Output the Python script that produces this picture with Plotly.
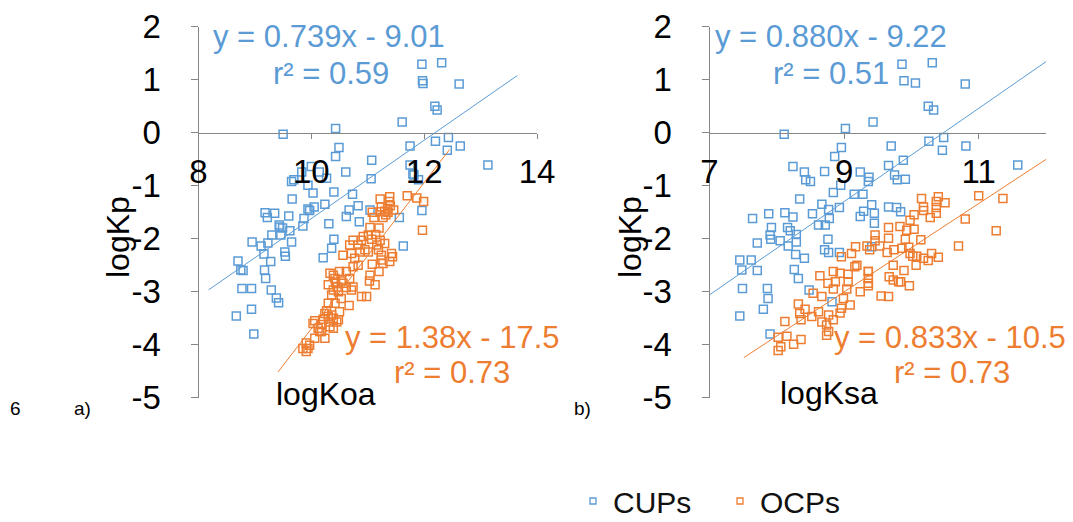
import plotly.graph_objects as go

# The page body has an 8 px margin on the top/left, so the figure is drawn from (8, 8)
PAGE_W, PAGE_H = 1073, 522
OFF = 8
W, H = PAGE_W - OFF, PAGE_H - OFF
BLUE = "#5B9BD5"
ORANGE = "#ED7D31"
AXIS = "#868686"
FONT = "Liberation Sans, Arial, sans-serif"


def fx(px):
    return (px - OFF) / W


def fy(py):
    return 1 - (py - OFF) / H


# ---------------- panel a) logKp vs logKoa ----------------
a_cup_x = [11.96, 12.31, 11.97, 11.98, 12.62, 12.19, 12.23, 11.61, 10.43, 9.50,
           12.43, 12.20, 12.64, 11.75, 10.49, 12.41, 10.43, 11.07, 13.13, 11.75,
           10.00, 9.83, 10.14, 10.61, 10.27, 9.69, 9.65, 9.94, 10.03, 10.40,
           9.66, 10.24, 10.05, 9.94, 9.97, 9.18, 9.35, 9.22, 9.60, 9.87,
           10.31, 9.43, 9.44, 9.49, 9.85, 9.62, 9.30, 9.46, 9.65, 8.95,
           9.11, 9.23, 10.40, 10.36, 9.53, 9.16, 8.70, 10.21, 9.54, 8.79,
           8.75, 9.17, 9.28, 9.19, 8.77, 8.94, 9.29, 9.38, 9.42, 8.94,
           8.67, 8.98, 10.73, 10.83, 10.67, 10.62, 10.85, 11.04, 11.56, 11.63,
           11.06, 11.80, 11.82, 11.90, 11.96]
a_cup_y = [1.29, 1.32, 0.98, 0.93, 0.92, 0.50, 0.43, 0.20, 0.08, -0.03,
           -0.09, -0.16, -0.25, -0.25, -0.28, -0.33, -0.45, -0.52, -0.61, -0.61,
           -0.64, -0.74, -0.74, -0.74, -0.86, -0.89, -0.92, -0.99, -1.14, -1.12,
           -1.25, -1.35, -1.40, -1.44, -1.47, -1.51, -1.52, -1.60, -1.57, -1.62,
           -1.72, -1.74, -1.78, -1.80, -1.76, -1.85, -1.93, -1.93, -2.06, -2.06,
           -2.14, -2.08, -2.01, -2.18, -2.25, -2.29, -2.42, -2.36, -2.33, -2.60,
           -2.59, -2.59, -2.43, -2.75, -2.94, -2.94, -2.97, -3.12, -3.21, -3.33,
           -3.46, -3.80, -1.16, -1.38, -1.46, -1.58, -1.68, -1.46, -1.60, -2.14,
           -0.87, -0.78, -0.80, -0.89, -1.47]

a_ocp_x = [11.70, 11.87, 11.99, 11.97, 11.22, 11.39, 11.38, 11.40, 11.24, 11.35,
           11.30, 11.36, 11.22, 11.08, 11.11, 11.27, 11.32, 11.46,
           11.04, 11.20, 11.01, 11.07, 10.92, 10.89, 10.74, 10.68, 10.83, 10.95,
           10.86, 11.01, 11.16, 11.22, 11.19, 11.24, 11.24, 11.42, 11.44, 11.39,
           11.27, 11.08, 11.20, 11.04, 11.03, 11.13, 10.83, 10.74, 10.56, 10.71,
           10.77, 11.14, 11.30,
           10.33, 10.39, 10.50, 10.62, 10.42, 10.53, 10.43, 10.30, 10.68, 10.39,
           10.48, 10.36, 10.62, 10.71, 10.74, 10.89, 10.98, 10.67, 10.53, 10.42,
           10.30, 10.56, 10.46,
           10.27, 10.36, 10.24, 10.30, 10.39, 10.48, 10.21, 10.06, 10.03, 10.18,
           10.33, 10.39, 10.15, 10.24, 10.06, 9.97, 9.91, 9.94, 10.50, 10.31,
           10.45, 10.12, 9.91, 9.85, 10.18]
a_ocp_y = [-1.19, -1.23, -1.30, -1.84, -1.25, -1.21, -1.30, -1.38, -1.40, -1.43,
           -1.48, -1.50, -1.49, -1.50, -1.60, -1.60, -1.55, -1.46,
           -1.79, -1.80, -1.93, -2.01, -1.96, -2.03, -2.03, -2.12, -2.12, -2.21,
           -2.25, -2.25, -2.12, -2.03, -2.21, -2.31, -2.40, -2.28, -2.34, -2.43,
           -2.47, -2.48, -2.62, -2.69, -2.80, -2.87, -2.50, -2.53, -2.31, -2.28,
           -2.37, -1.92, -2.09,
           -2.65, -2.69, -2.62, -2.62, -2.75, -2.80, -2.82, -2.87, -2.75, -2.97,
           -3.00, -3.06, -2.92, -2.97, -2.91, -3.09, -3.09, -3.26, -3.13, -3.22,
           -3.22, -2.84, -2.91,
           -3.36, -3.44, -3.41, -3.47, -3.50, -3.53, -3.52, -3.55, -3.60, -3.62,
           -3.66, -3.69, -3.75, -3.88, -3.88, -4.01, -3.97, -4.07, -3.38, -3.57,
           -3.57, -3.69, -4.13, -4.07, -3.75]

# ---------------- panel b) logKp vs logKsa ----------------
b_cup_x = [9.86, 10.31, 9.89, 10.06, 10.80, 10.25, 10.33, 9.43, 9.02, 8.11,
           10.48, 10.26, 10.81, 9.70, 8.96, 10.46, 8.86, 9.88, 11.58, 9.66,
           9.75, 9.79, 9.91, 9.37, 9.36, 9.24, 8.95, 8.84, 9.15, 9.28,
           8.24, 8.41, 8.43, 8.50, 8.71,
           8.34, 8.67, 8.77, 8.93, 9.41, 9.29, 9.24, 8.53, 8.12, 8.24,
           7.88, 7.64, 8.78, 8.72, 8.62, 7.92, 8.16, 8.20, 8.29, 7.90,
           7.91, 8.05, 8.29, 7.71, 8.17, 8.76, 8.28, 8.71, 8.77, 8.93,
           7.45, 7.62, 8.41,
           7.48, 7.71, 8.26, 8.32, 7.49, 7.86, 7.87, 7.80, 7.45, 7.90,
           8.48, 8.82,
           9.66, 9.78, 9.84, 9.45, 9.45, 9.41]
b_cup_y = [1.29, 1.32, 0.98, 0.94, 0.92, 0.50, 0.43, 0.20, 0.08, -0.03,
           -0.09, -0.16, -0.25, -0.25, -0.28, -0.33, -0.45, -0.52, -0.61, -0.62,
           -0.80, -0.89, -0.88, -0.84, -0.92, -0.74, -0.99, -1.13, -1.16, -1.16,
           -0.64, -0.74, -0.89, -0.92, -0.73,
           -1.25, -1.35, -1.45, -1.41, -1.36, -1.48, -1.58, -1.53, -1.51, -1.59,
           -1.53, -1.62, -1.62, -1.74, -1.74, -1.79, -1.79, -1.85, -1.92, -1.93,
           -2.01, -2.04, -2.06, -2.08, -2.14, -2.01, -2.30, -2.21, -2.26, -2.26,
           -2.40, -2.40, -2.37,
           -2.59, -2.60, -2.58, -2.75, -2.94, -2.94, -3.13, -3.33, -3.46, -3.80,
           -2.97, -3.19,
           -1.40, -1.41, -1.49, -1.52, -1.71, -2.15]

b_ocp_x = [8.96, 8.64, 8.84, 8.94, 9.06, 9.16, 9.19, 9.36, 9.36, 9.24,
           8.87, 8.76, 9.06, 8.84, 9.04, 8.54, 8.67, 8.99, 8.32, 8.42,
           8.62, 8.34, 8.36, 8.52, 8.67, 8.77, 8.84, 8.74, 8.96, 9.09,
           8.94, 8.12, 8.77, 8.74, 8.02, 8.15, 8.36, 8.25, 8.06, 8.02,
           9.11,
           10.15, 10.40, 10.37, 10.50, 10.18, 10.37, 10.18, 10.37, 10.28, 10.04,
           9.98, 9.83, 9.66, 9.93, 10.04, 11.00, 11.36, 10.80, 11.26, 10.70,
           10.14, 9.91, 9.66, 9.46, 9.46, 9.34, 9.38, 9.53, 9.64, 9.74,
           9.86, 9.96, 9.98, 10.02, 10.08, 10.18, 10.30, 10.40, 10.25, 10.07,
           9.89, 9.73, 9.36, 9.36, 9.36, 9.67, 9.73, 9.81, 9.84, 9.97,
           9.55, 9.66, 9.17]
b_ocp_y = [-2.34, -2.70, -2.62, -2.65, -2.67, -2.53, -2.50, -2.62, -2.84, -3.00,
           -2.81, -2.84, -2.81, -2.95, -2.95, -3.03, -3.09, -3.13, -3.23, -3.33,
           -3.38, -3.41, -3.53, -3.47, -3.57, -3.44, -3.53, -3.63, -3.31, -3.25,
           -3.40, -3.56, -3.75, -3.82, -3.86, -3.84, -3.90, -3.99, -4.04, -4.11,
           -2.28,
           -1.24, -1.21, -1.30, -1.32, -1.40, -1.41, -1.47, -1.52, -1.60, -1.55,
           -1.65, -1.77, -1.79, -1.84, -1.82, -1.19, -1.24, -1.63, -1.85, -2.14,
           -2.02, -2.01, -1.99, -1.93, -2.04, -2.14, -2.21, -2.14, -2.26, -2.21,
           -2.18, -2.16, -2.28, -2.33, -2.33, -2.37, -2.28, -2.35, -2.41, -2.50,
           -2.60, -2.50, -2.62, -2.75, -2.89, -2.72, -2.78, -2.81, -2.81, -2.89,
           -3.08, -3.09, -2.15]

# regression lines (slope, intercept, x extent) as printed on the chart
fits = {
    "a_cup": (0.739, -9.01, [8.18, 13.65]),
    "a_ocp": (1.38, -17.5, [9.41, 12.45]),
    "b_cup": (0.880, -9.22, [7.0, 12.0]),
    "b_ocp": (0.833, -10.5, [7.51, 12.0]),
}

x_ticks_a = [8, 10, 12, 14]
x_ticks_b = [7, 9, 11]
y_ticks = [-5, -4, -3, -2, -1, 0, 1, 2]

fig = go.Figure()


def scatter(x, y, color, xa, ya):
    fig.add_trace(go.Scatter(
        x=x, y=y, mode="markers", xaxis=xa, yaxis=ya, showlegend=False,
        marker=dict(symbol="square-open", size=8, color=color,
                    line=dict(width=1.5, color=color)),
        hoverinfo="x+y"))


def trend(key, color, xa, ya):
    m, b, xs = fits[key]
    fig.add_trace(go.Scatter(
        x=xs, y=[m * v + b for v in xs], mode="lines", xaxis=xa, yaxis=ya,
        showlegend=False, line=dict(color=color, width=1), hoverinfo="skip"))


scatter(a_cup_x, a_cup_y, BLUE, "x", "y")
scatter(a_ocp_x, a_ocp_y, ORANGE, "x", "y")
trend("a_cup", BLUE, "x", "y")
trend("a_ocp", ORANGE, "x", "y")
scatter(b_cup_x, b_cup_y, BLUE, "x2", "y2")
scatter(b_ocp_x, b_ocp_y, ORANGE, "x2", "y2")
trend("b_cup", BLUE, "x2", "y2")
trend("b_ocp", ORANGE, "x2", "y2")

# legend-only entries (small symbols as in the original)
for name, color in [("CUPs", BLUE), ("OCPs", ORANGE)]:
    fig.add_trace(go.Scatter(
        x=[None], y=[None], mode="markers", name=name,
        marker=dict(symbol="square-open", size=6, color=color,
                    line=dict(width=1.3, color=color))))

y_dom = [fy(397.7), fy(26.7)]
x_pos = fy(132.7)

common_x = dict(anchor="free", position=x_pos, showline=True, linecolor=AXIS,
                linewidth=1, ticks="outside", ticklen=5, tickcolor=AXIS,
                showgrid=False, zeroline=False, ticklabelstandoff=5,
                tickfont=dict(family=FONT, size=33, color="black"))
common_y = dict(domain=y_dom, range=[-5, 2], tickvals=y_ticks,
                ticktext=[str(v) for v in y_ticks], showline=True,
                linecolor=AXIS, linewidth=1, ticks="outside", ticklen=7,
                tickcolor=AXIS, showgrid=False, zeroline=False,
                ticklabelstandoff=23,
                tickfont=dict(family=FONT, size=33, color="black"))

fig.update_layout(
    width=W, height=H, margin=dict(l=0, r=0, t=0, b=0, autoexpand=False),
    paper_bgcolor="white", plot_bgcolor="white",
    font=dict(family=FONT, color="black"),
    xaxis=dict(domain=[fx(198.5), fx(537)], range=[8, 14], tickvals=x_ticks_a,
               ticktext=[str(v) for v in x_ticks_a], **common_x),
    yaxis=dict(anchor="x", **common_y),
    xaxis2=dict(domain=[fx(709.5), fx(1046)], range=[7, 12], tickvals=x_ticks_b,
                ticktext=[str(v) for v in x_ticks_b], **common_x),
    yaxis2=dict(anchor="x2", **common_y),
    legend=dict(orientation="h", x=fx(573), xanchor="left", y=fy(501),
                yanchor="middle", entrywidth=102, entrywidthmode="pixels",
                font=dict(family=FONT, size=30, color="#111111"),
                bgcolor="rgba(0,0,0,0)"),
)


def txt(text, px, py, size, color, angle=0, family=FONT):
    fig.add_annotation(text=text, x=fx(px), y=fy(py), xref="paper", yref="paper",
                       xanchor="center", yanchor="middle", showarrow=False,
                       borderpad=0, textangle=angle,
                       font=dict(family=family, size=size, color=color))


txt("y = 0.739x - 9.01", 329, 36, 31, BLUE)
txt("r² = 0.59", 331, 73, 31, BLUE)
txt("y = 1.38x - 17.5", 452, 337, 31, ORANGE)
txt("r² = 0.73", 452, 372, 31, ORANGE)
txt("y = 0.880x - 9.22", 831, 36, 31, BLUE)
txt("r² = 0.51", 831, 73, 31, BLUE)
txt("y = 0.833x - 10.5", 950, 337, 31, ORANGE)
txt("r² = 0.73", 952, 372, 31, ORANGE)

txt("logKp", 118, 237, 32, "black", angle=-90)
txt("logKp", 630, 237, 32, "black", angle=-90)
txt("logKoa", 326, 394, 32, "black")
txt("logKsa", 829, 393, 32, "black")

txt("6", 15, 408, 19, "black")
txt("a)", 82, 408, 19, "black")
txt("b)", 582, 408, 19, "black")

fig.write_html("out.html")
